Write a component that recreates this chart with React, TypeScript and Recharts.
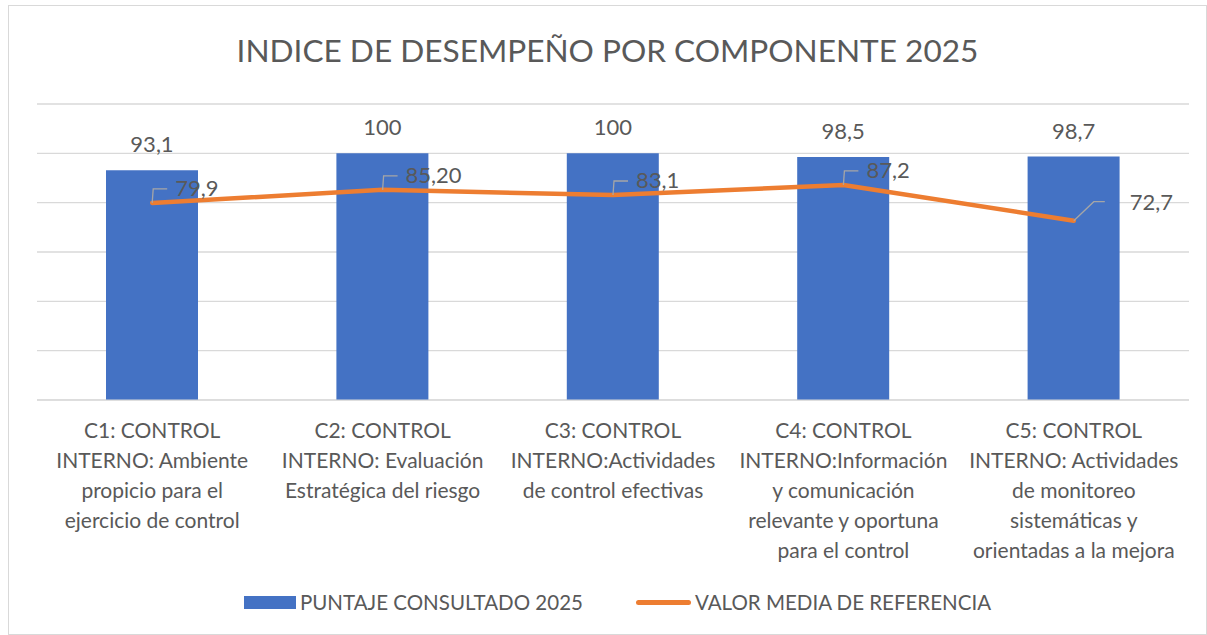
import React from "react";
import { ComposedChart, Bar, Line, XAxis, YAxis, CartesianGrid, LabelList } from "recharts";

// categorias (ya partidas en lineas como en el original)
const categorias = [
  ["C1: CONTROL", "INTERNO: Ambiente", "propicio para el", "ejercicio de control"],
  ["C2: CONTROL", "INTERNO: Evaluación", "Estratégica del riesgo"],
  ["C3: CONTROL", "INTERNO:Actividades", "de control efectivas"],
  ["C4: CONTROL", "INTERNO:Información", "y comunicación", "relevante y oportuna", "para el control"],
  ["C5: CONTROL", "INTERNO: Actividades", "de monitoreo", "sistemáticas y", "orientadas a la mejora"],
];
const puntaje = [93.1, 100, 100, 98.5, 98.7];
const puntajeLabels = ["93,1", "100", "100", "98,5", "98,7"];
const media = [79.9, 85.2, 83.1, 87.2, 72.7];
const mediaLabels = ["79,9", "85,20", "83,1", "87,2", "72,7"];
const yTicks = [0, 20, 40, 60, 80, 100, 120];

const data = categorias.map((c, i) => ({
  name: c.join(" "),
  puntaje: puntaje[i],
  media: media[i],
  pl: puntajeLabels[i],
  ml: mediaLabels[i],
}));

const FONT = "Lato, 'Open Sans', sans-serif";
const TXT = "#595959";

function CategoryTick(props: any) {
  const { x, y, index } = props;
  const lines = categorias[index] || [];
  return (
    <text x={x} y={y} textAnchor="middle" fill={TXT} fontFamily={FONT} fontSize={21}>
      {lines.map((l, i) => (
        <tspan key={i} x={x} y={y + 30 + i * 30}>
          {l}
        </tspan>
      ))}
    </text>
  );
}

function MediaLabel(props: any) {
  const { x, y, index } = props;
  const txt = mediaLabels[index];
  if (index === 4) {
    return (
      <g>
        <path d={`M${x},${y} L${x + 20},${y - 19} L${x + 31},${y - 19}`} stroke="#a6a6a6" strokeWidth={1.3} fill="none" />
        <text x={x + 56} y={y - 18} dy="0.35em" fill={TXT} fontFamily={FONT} fontSize={22}>
          {txt}
        </text>
      </g>
    );
  }
  return (
    <g>
      <path d={`M${x},${y} L${x + 1},${y - 14} L${x + 15},${y - 14}`} stroke="#a6a6a6" strokeWidth={1.3} fill="none" />
      <text x={x + 23} y={y - 15} dy="0.35em" fill={TXT} fontFamily={FONT} fontSize={22}>
        {txt}
      </text>
    </g>
  );
}

function PuntajeLabel(props: any) {
  const { x, y, width, index } = props;
  return (
    <text x={x + width / 2} y={y - 18} textAnchor="middle" fill={TXT} fontFamily={FONT} fontSize={22}>
      {puntajeLabels[index]}
    </text>
  );
}

export default function App() {
  return (
    <div
      style={{
        position: "absolute",
        left: 8,
        top: 5,
        width: 1197,
        height: 628,
        border: "1px solid #d9d9d9",
        background: "#fff",
        fontFamily: FONT,
      }}
    >
      <div
        style={{
          position: "absolute",
          top: 24,
          left: 0,
          width: "100%",
          textAlign: "center",
          fontSize: 31.6,
          color: TXT,
          lineHeight: "40px",
        }}
      >
        INDICE DE DESEMPEÑO POR COMPONENTE 2025
      </div>
      <ComposedChart
        width={1197}
        height={628}
        data={data}
        margin={{ top: 98, right: 17, left: 28, bottom: 74 }}
        barSize={92}
      >
        <CartesianGrid vertical={false} stroke="#d9d9d9" strokeWidth={1.3} />
        <XAxis dataKey="name" axisLine={{ stroke: "#d9d9d9" }} tickLine={false} height={160} tick={<CategoryTick />} interval={0} />
        <YAxis hide domain={[0, 120]} ticks={yTicks} />
        <Bar dataKey="puntaje" fill="#4472c4" isAnimationActive={false}>
          <LabelList dataKey="pl" content={<PuntajeLabel />} />
        </Bar>
        <Line
          dataKey="media"
          stroke="#ed7d31"
          strokeWidth={4.5}
          dot={false}
          strokeLinecap="round"
          strokeLinejoin="round"
          isAnimationActive={false}
        >
          <LabelList dataKey="ml" content={<MediaLabel />} />
        </Line>
      </ComposedChart>
      <div
        style={{
          position: "absolute",
          top: 584,
          left: 0,
          width: "100%",
          boxSizing: "border-box",
          paddingLeft: 20,
          display: "flex",
          justifyContent: "center",
          alignItems: "center",
          fontSize: 20.5,
          color: TXT,
        }}
      >
        <span style={{ display: "inline-block", width: 52, height: 13, background: "#4472c4", marginRight: 4 }} />
        <span>PUNTAJE CONSULTADO 2025</span>
        <span style={{ display: "inline-block", width: 55, height: 5, borderRadius: 3, background: "#ed7d31", marginLeft: 53, marginRight: 4 }} />
        <span>VALOR MEDIA DE REFERENCIA</span>
      </div>
    </div>
  );
}
